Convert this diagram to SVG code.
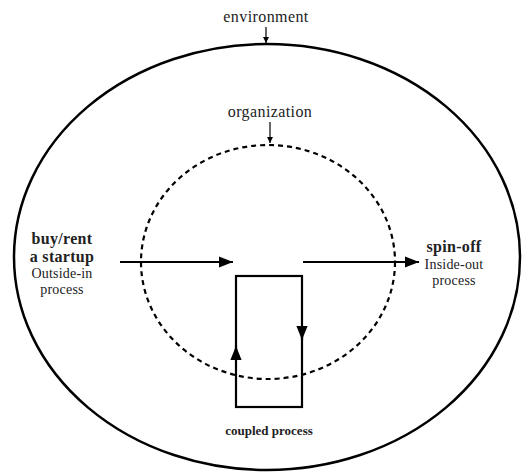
<svg xmlns="http://www.w3.org/2000/svg" width="522" height="476" viewBox="0 0 522 476">
<style>
text{font-family:"Liberation Serif","DejaVu Serif","Times New Roman",serif;fill:#222;text-anchor:middle}
.s{font-size:16px;letter-spacing:0.4px}
.m{font-size:14px;letter-spacing:0.2px}
.b{font-size:16px;font-weight:bold;letter-spacing:0.3px}
.ln{stroke:#000;fill:none}
</style>
<defs>
<marker id="ahL" viewBox="0 0 10 10" refX="10" refY="5" markerWidth="14" markerHeight="14" markerUnits="userSpaceOnUse" orient="auto"><path d="M0,1 L10,5 L0,9 Z" fill="#000"/></marker>
<marker id="ahS" viewBox="0 0 10 10" refX="10" refY="5" markerWidth="6" markerHeight="6" markerUnits="userSpaceOnUse" orient="auto"><path d="M0,0 L10,5 L0,10 Z" fill="#000"/></marker>
</defs>
<g id="environment">
<ellipse cx="267" cy="257" rx="253" ry="213" class="ln" stroke-width="2.5"/>
<text x="266" y="22" class="s">environment</text>
</g>
<g id="organization">
<ellipse cx="268" cy="262" rx="127" ry="117" class="ln" stroke-width="2.2" stroke-dasharray="5,4"/>
<text x="270" y="117" class="s">organization</text>
</g>
<g id="buy">
<text x="62" y="244" class="b">buy/rent</text>
<text x="62" y="262" class="b">a startup</text>
<text x="62" y="278" class="m">Outside-in</text>
<text x="62" y="294" class="m">process</text>
</g>
<g id="spinoff">
<text x="454" y="252" class="b">spin-off</text>
<text x="454" y="269" class="m">Inside-out</text>
<text x="454" y="285" class="m">process</text>
</g>
<g id="coupled">
<rect x="236" y="276" width="66" height="131" class="ln" stroke-width="2.2"/>
<text x="269" y="435" style="font-size:13px;font-weight:bold">coupled process</text>
</g>
<g id="connectors">
<line x1="266" y1="27" x2="266" y2="43" class="ln" stroke-width="1.2" marker-end="url(#ahS)"/>
<line x1="270" y1="122" x2="270" y2="143" class="ln" stroke-width="1.2" marker-end="url(#ahS)"/>
<line x1="120" y1="262" x2="233" y2="262" class="ln" stroke-width="2.2" marker-end="url(#ahL)"/>
<line x1="303" y1="262" x2="419" y2="262" class="ln" stroke-width="2.2" marker-end="url(#ahL)"/>
<line x1="236" y1="360" x2="236" y2="346" class="ln" stroke-width="2.2" marker-end="url(#ahL)"/>
<line x1="302" y1="326" x2="302" y2="340" class="ln" stroke-width="2.2" marker-end="url(#ahL)"/>
</g>
</svg>
